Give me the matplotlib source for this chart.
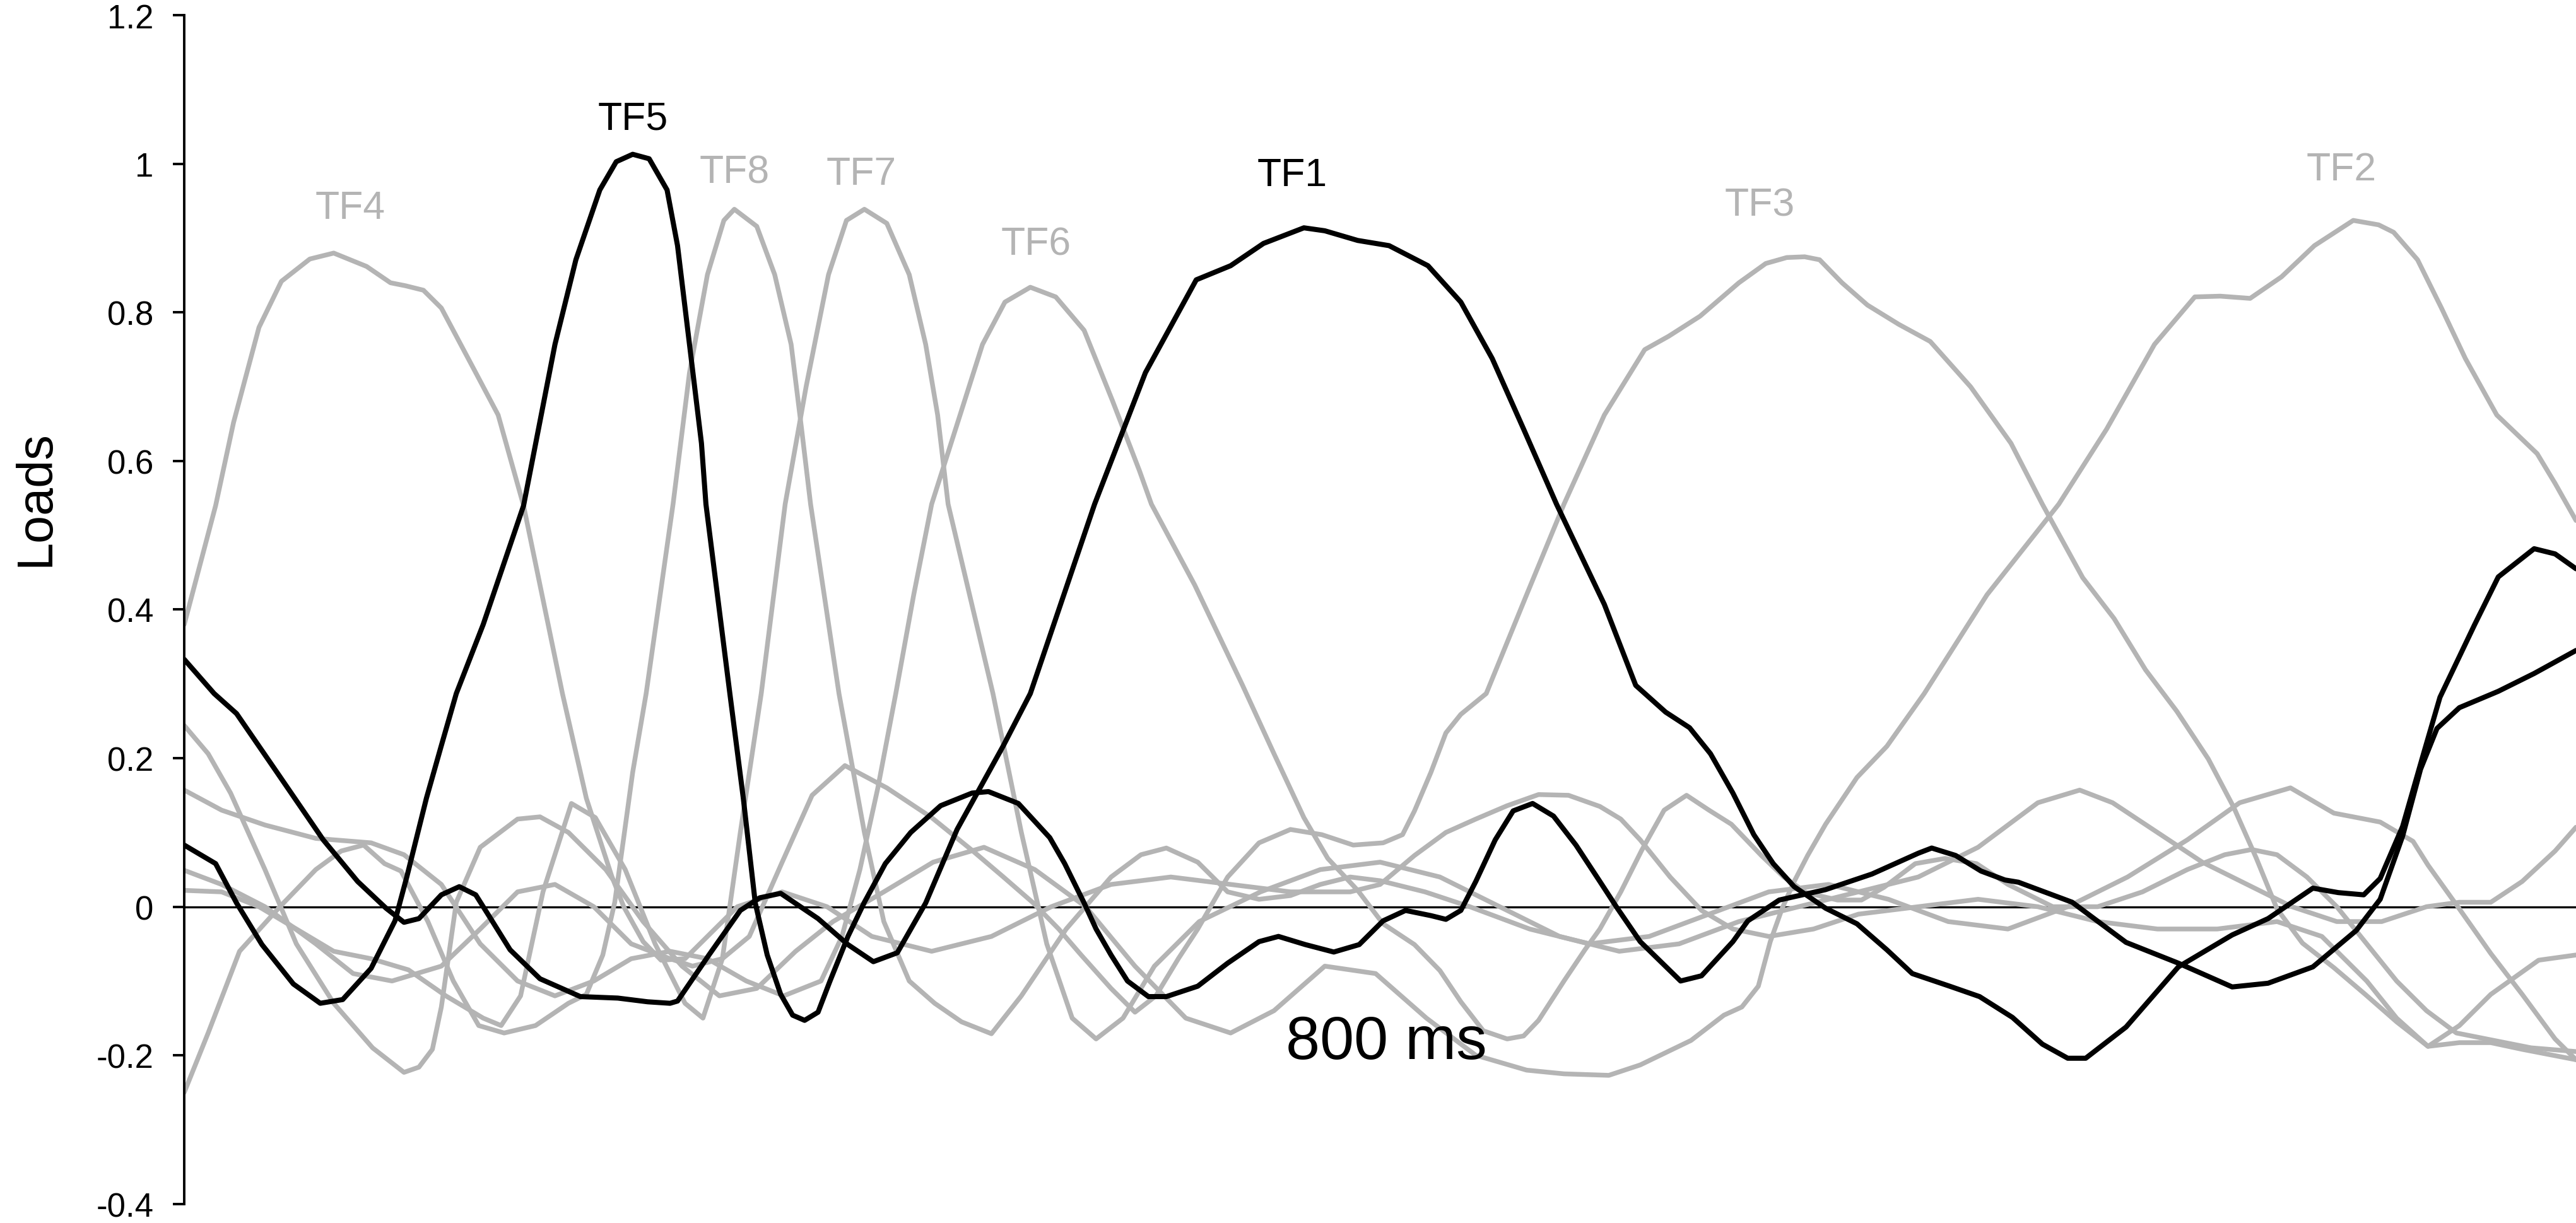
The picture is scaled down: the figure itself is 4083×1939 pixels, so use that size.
import matplotlib
matplotlib.use("Agg")
import matplotlib.pyplot as plt

# ---------------- data (time in ms, loads) ----------------
tf1_t = [0, 20, 35, 62, 93, 116, 135, 147, 157, 172, 184, 195, 205, 218, 238, 265, 290, 310, 325, 330, 351, 372, 385, 399, 424, 444, 461, 477, 496, 517, 548, 566, 609, 643, 677, 700, 722, 749, 763, 785, 806, 832, 854, 875, 896, 918, 950, 971, 991, 1007, 1021, 1036, 1050, 1063, 1077, 1098, 1119, 1139, 1156, 1181, 1201, 1223, 1243, 1260, 1272, 1299, 1334, 1370, 1394, 1424, 1441, 1458, 1469, 1484, 1498, 1509, 1532, 1548, 1572, 1586, 1600]
tf1_v = [0.333, 0.287, 0.26, 0.181, 0.090, 0.034, -0.002, -0.021, -0.016, 0.016, 0.027, 0.016, -0.016, -0.058, -0.097, -0.121, -0.123, -0.128, -0.13, -0.127, -0.065, -0.005, 0.012, 0.018, -0.016, -0.051, -0.074, -0.062, 0.005, 0.104, 0.217, 0.287, 0.542, 0.719, 0.844, 0.863, 0.893, 0.914, 0.910, 0.897, 0.89, 0.863, 0.814, 0.738, 0.643, 0.542, 0.407, 0.298, 0.262, 0.241, 0.206, 0.153, 0.097, 0.058, 0.027, -0.002, -0.023, -0.058, -0.09, -0.107, -0.121, -0.149, -0.185, -0.204, -0.204, -0.162, -0.081, -0.038, -0.016, 0.025, 0.019, 0.016, 0.038, 0.108, 0.206, 0.282, 0.379, 0.444, 0.482, 0.475, 0.455]

tf5_t = [0, 21, 35, 52, 73, 91, 106, 125, 141, 149, 162, 172, 182, 200, 227, 248, 262, 278, 289, 300, 311, 323, 330, 338, 346, 349, 365, 374, 382, 390, 399, 407, 415, 424, 432, 444, 455, 469, 486, 506, 527, 538, 558, 579, 589, 602, 610, 620, 631, 645, 657, 678, 698, 719, 732, 750, 769, 786, 802, 817, 834, 844, 854, 864, 877, 889, 902, 916, 931, 947, 958, 974, 1001, 1015, 1036, 1046, 1067, 1098, 1129, 1160, 1169, 1185, 1202, 1218, 1227, 1263, 1299, 1334, 1370, 1394, 1424, 1453, 1469, 1484, 1496, 1507, 1522, 1548, 1572, 1600]
tf5_v = [0.083, 0.058, 0.005, -0.051, -0.104, -0.130, -0.125, -0.083, -0.019, 0.041, 0.146, 0.217, 0.287, 0.38, 0.54, 0.757, 0.871, 0.965, 1.003, 1.013, 1.007, 0.965, 0.89, 0.757, 0.624, 0.542, 0.287, 0.146, 0.005, -0.065, -0.118, -0.146, -0.153, -0.142, -0.1, -0.04, 0.006, 0.058, 0.1, 0.136, 0.153, 0.155, 0.139, 0.093, 0.058, 0.005, -0.03, -0.065, -0.1, -0.121, -0.121, -0.107, -0.076, -0.047, -0.040, -0.051, -0.061, -0.051, -0.019, -0.005, -0.012, -0.017, -0.005, 0.034, 0.090, 0.129, 0.139, 0.122, 0.083, 0.034, 0.0, -0.047, -0.1, -0.093, -0.047, -0.019, 0.009, 0.023, 0.044, 0.072, 0.079, 0.069, 0.048, 0.036, 0.033, 0.006, -0.048, -0.076, -0.108, -0.103, -0.081, -0.032, 0.01, 0.095, 0.185, 0.24, 0.268, 0.29, 0.314, 0.345]

tf4_t = [0, 21, 33, 50, 65, 84, 100, 122, 138, 148, 160, 172, 195, 210, 227, 253, 269, 286, 294, 307, 319, 335, 350, 370, 400, 430, 460, 500, 540, 580, 620, 660, 700, 740, 780, 800, 823, 844, 864, 885, 906, 926, 947, 961, 974, 994, 1015, 1036, 1060, 1090, 1120, 1160, 1200, 1240, 1280, 1320, 1360, 1400, 1430, 1460, 1480, 1501, 1522, 1543, 1575, 1600]
tf4_v = [0.38, 0.54, 0.652, 0.78, 0.842, 0.872, 0.88, 0.862, 0.84, 0.836, 0.83, 0.806, 0.719, 0.662, 0.54, 0.287, 0.146, 0.041, 0.0, -0.047, -0.072, -0.07, -0.04, 0.0, 0.02, 0.0, -0.04, -0.06, -0.04, 0.0, 0.03, 0.04, 0.03, 0.02, 0.02, 0.03, 0.069, 0.1, 0.118, 0.136, 0.151, 0.15, 0.135, 0.118, 0.09, 0.04, -0.005, -0.03, -0.04, -0.03, -0.01, 0.0, 0.01, 0.0, -0.02, -0.03, -0.03, -0.02, -0.04, -0.1, -0.15, -0.188, -0.16, -0.118, -0.072, -0.065]

tf2_t = [0, 16, 31, 54, 75, 100, 126, 147, 157, 166, 172, 182, 198, 223, 238, 257, 282, 307, 333, 358, 383, 409, 434, 468, 501, 535, 569, 603, 636, 670, 700, 729, 763, 797, 831, 864, 898, 923, 953, 974, 1008, 1030, 1042, 1053, 1061, 1069, 1077, 1086, 1098, 1119, 1139, 1164, 1206, 1254, 1286, 1318, 1345, 1362, 1382, 1403, 1425, 1451, 1468, 1478, 1494, 1510, 1526, 1547, 1574, 1586, 1600]
tf2_v = [0.244, 0.206, 0.153, 0.05, -0.05, -0.13, -0.19, -0.223, -0.216, -0.192, -0.135, 0.006, 0.08, 0.118, 0.121, 0.10, 0.05, -0.02, -0.08, -0.12, -0.11, -0.06, -0.02, 0.02, 0.06, 0.08, 0.05, 0.0, -0.08, -0.15, -0.17, -0.14, -0.08, -0.09, -0.15, -0.2, -0.22, -0.225, -0.227, -0.213, -0.18, -0.146, -0.135, -0.107, -0.047, -0.002, 0.034, 0.069, 0.111, 0.174, 0.216, 0.287, 0.42, 0.542, 0.643, 0.757, 0.821, 0.822, 0.819, 0.848, 0.89, 0.924, 0.918, 0.908, 0.871, 0.806, 0.738, 0.662, 0.61, 0.57, 0.52]

tf3_t = [0, 25, 54, 88, 113, 139, 172, 198, 223, 248, 274, 299, 325, 340, 360, 378, 400, 420, 442, 470, 500, 527, 548, 568, 585, 600, 620, 636, 650, 665, 678, 698, 719, 740, 761, 782, 802, 815, 823, 834, 844, 854, 871, 898, 923, 950, 977, 993, 1014, 1040, 1058, 1072, 1084, 1094, 1109, 1126, 1147, 1168, 1195, 1222, 1243, 1270, 1291, 1312, 1333, 1354, 1371, 1386, 1400, 1417, 1438, 1459, 1480, 1501, 1522, 1543, 1564, 1600]
tf3_v = [0.049, 0.03, 0.0, -0.05, -0.09, -0.1, -0.08, -0.03, 0.02, 0.03, 0.0, -0.05, -0.07, -0.08, -0.07, -0.04, 0.06, 0.15, 0.19, 0.16, 0.12, 0.076, 0.04, 0.005, -0.03, -0.065, -0.11, -0.142, -0.12, -0.07, -0.03, 0.04, 0.086, 0.104, 0.097, 0.083, 0.086, 0.097, 0.129, 0.181, 0.234, 0.259, 0.287, 0.42, 0.542, 0.662, 0.75, 0.768, 0.795, 0.84, 0.866, 0.874, 0.875, 0.871, 0.84, 0.81, 0.784, 0.761, 0.70, 0.624, 0.542, 0.443, 0.388, 0.319, 0.263, 0.199, 0.134, 0.066, -0.003, -0.049, -0.082, -0.118, -0.155, -0.188, -0.183, -0.183, -0.192, -0.206]

tf6_t = [0, 25, 54, 88, 125, 147, 172, 198, 223, 248, 274, 299, 325, 350, 376, 401, 426, 440, 452, 464, 476, 488, 500, 519, 534, 549, 566, 583, 602, 621, 639, 647, 676, 708, 729, 749, 765, 785, 802, 823, 840, 854, 869, 885, 896, 906, 923, 937, 947, 961, 975, 990, 1005, 1020, 1035, 1055, 1070, 1085, 1106, 1122, 1137, 1158, 1178, 1199, 1220, 1250, 1280, 1310, 1340, 1365, 1383, 1400, 1420, 1440, 1460, 1480, 1500, 1520, 1545, 1570, 1600]
tf6_v = [0.157, 0.13, 0.11, 0.092, 0.086, 0.07, 0.03, -0.05, -0.1, -0.12, -0.1, -0.07, -0.06, -0.07, -0.1, -0.12, -0.1, -0.04, 0.05, 0.16, 0.287, 0.42, 0.542, 0.662, 0.757, 0.814, 0.834, 0.821, 0.776, 0.681, 0.587, 0.542, 0.433, 0.298, 0.206, 0.12, 0.065, 0.022, -0.023, -0.051, -0.086, -0.128, -0.167, -0.178, -0.174, -0.153, -0.1, -0.058, -0.03, 0.02, 0.076, 0.13, 0.15, 0.13, 0.111, 0.069, 0.04, 0.019, 0.009, 0.009, 0.026, 0.058, 0.065, 0.058, 0.03, 0.0, 0.0, 0.02, 0.05, 0.07, 0.077, 0.07, 0.04, 0.0, -0.05, -0.1, -0.14, -0.17, -0.18, -0.19, -0.195]

tf7_t = [0, 25, 50, 75, 100, 125, 150, 175, 200, 212, 225, 240, 259, 275, 295, 315, 335, 347, 360, 372, 386, 402, 416, 431, 443, 455, 470, 485, 496, 504, 511, 541, 560, 577, 594, 610, 628, 649, 679, 720, 760, 800, 840, 880, 920, 960, 1000, 1040, 1080, 1120, 1160, 1200, 1240, 1268, 1290, 1320, 1350, 1380, 1410, 1440, 1470, 1500, 1522, 1543, 1564, 1586, 1600]
tf7_v = [0.022, 0.02, 0.0, -0.03, -0.06, -0.07, -0.085, -0.12, -0.15, -0.16, -0.12, 0.02, 0.139, 0.12, 0.05, -0.05, -0.13, -0.15, -0.07, 0.1, 0.287, 0.542, 0.70, 0.851, 0.924, 0.939, 0.92, 0.851, 0.757, 0.662, 0.542, 0.287, 0.1, -0.05, -0.15, -0.178, -0.15, -0.08, -0.02, 0.02, 0.05, 0.06, 0.04, 0.0, -0.04, -0.06, -0.05, -0.02, 0.0, 0.02, 0.04, 0.08, 0.14, 0.157, 0.14, 0.10, 0.06, 0.03, 0.0, -0.02, -0.02, 0.0, 0.006, 0.006, 0.034, 0.075, 0.107]

tf8_t = [0, 16, 37, 64, 88, 105, 120, 134, 145, 163, 180, 197, 214, 235, 257, 269, 280, 288, 294, 300, 309, 327, 338, 350, 361, 368, 383, 395, 406, 413, 419, 438, 455, 468, 485, 502, 520, 540, 560, 590, 620, 640, 657, 678, 698, 719, 740, 760, 780, 800, 830, 860, 900, 940, 980, 1020, 1060, 1100, 1140, 1180, 1220, 1260, 1300, 1340, 1375, 1409, 1438, 1469, 1491, 1501, 1522, 1543, 1564, 1586, 1600]
tf8_v = [-0.25, -0.17, -0.06, 0.0, 0.05, 0.075, 0.083, 0.058, 0.048, -0.02, -0.1, -0.16, -0.17, -0.16, -0.13, -0.118, -0.065, 0.006, 0.093, 0.181, 0.287, 0.542, 0.719, 0.851, 0.924, 0.939, 0.916, 0.851, 0.757, 0.643, 0.542, 0.287, 0.1, -0.02, -0.1, -0.13, -0.155, -0.171, -0.12, -0.03, 0.04, 0.07, 0.079, 0.06, 0.02, 0.01, 0.015, 0.03, 0.04, 0.035, 0.02, 0.0, -0.03, -0.05, -0.04, -0.01, 0.02, 0.03, 0.01, -0.02, -0.03, 0.0, 0.04, 0.09, 0.14, 0.16, 0.126, 0.114, 0.088, 0.056, -0.003, -0.063, -0.118, -0.178, -0.206]

# factor labels: name, time, load (baseline), highlighted
label_names = ["TF4", "TF5", "TF8", "TF7", "TF6", "TF1", "TF3", "TF2"]
label_t = [111, 300, 368, 453, 570, 741, 1054, 1443]
label_v = [0.927, 1.047, 0.975, 0.973, 0.878, 0.971, 0.931, 0.979]
label_dark = [False, True, False, False, False, True, False, False]

y_ticks = [-0.4, -0.2, 0, 0.2, 0.4, 0.6, 0.8, 1, 1.2]
y_ticklabels = ["-0.4", "-0.2", "0", "0.2", "0.4", "0.6", "0.8", "1", "1.2"]

# ---------------- drawing ----------------
GRAY = "#b4b4b4"
BLACK = "#000000"
FONT = ["Liberation Sans", "DejaVu Sans"]
plt.rcParams["font.family"] = FONT

fig = plt.figure(figsize=(40.83, 19.40), dpi=100)
ax = fig.add_axes([0.07152, 0.01567, 0.92848, 0.97124])

ax.axhline(0, color=BLACK, lw=2.4, zorder=1)

gray_series = [(tf4_t, tf4_v), (tf2_t, tf2_v), (tf3_t, tf3_v), (tf6_t, tf6_v),
               (tf7_t, tf7_v), (tf8_t, tf8_v)]
for t, v in gray_series:
    ax.plot(t, v, color=GRAY, lw=5.4, solid_joinstyle="round",
            solid_capstyle="round", zorder=2)
for t, v in [(tf1_t, tf1_v), (tf5_t, tf5_v)]:
    ax.plot(t, v, color=BLACK, lw=5.8, solid_joinstyle="round",
            solid_capstyle="round", zorder=3)

for name, lt, lv, dark in zip(label_names, label_t, label_v, label_dark):
    ax.text(lt, lv, name, ha="center", va="baseline", fontsize=45,
            color=BLACK if dark else GRAY, zorder=4)

ax.text(804, -0.183, "800 ms", ha="center", va="center", fontsize=70, color=BLACK)

ax.set_xlim(0, 1600)
ax.set_ylim(-0.4, 1.2)
ax.set_yticks(y_ticks)
ax.set_yticklabels(y_ticklabels)
ax.set_xticks([])
for s in ["top", "right", "bottom"]:
    ax.spines[s].set_visible(False)
ax.spines["left"].set_linewidth(2.8)
ax.tick_params(axis="y", length=13, width=2.8, labelsize=38, pad=22)
ax.set_ylabel("Loads", fontsize=57)
ax.yaxis.set_label_coords(-0.052, 0.594)
ax.patch.set_alpha(0)

fig.savefig("out.png", dpi=100)
